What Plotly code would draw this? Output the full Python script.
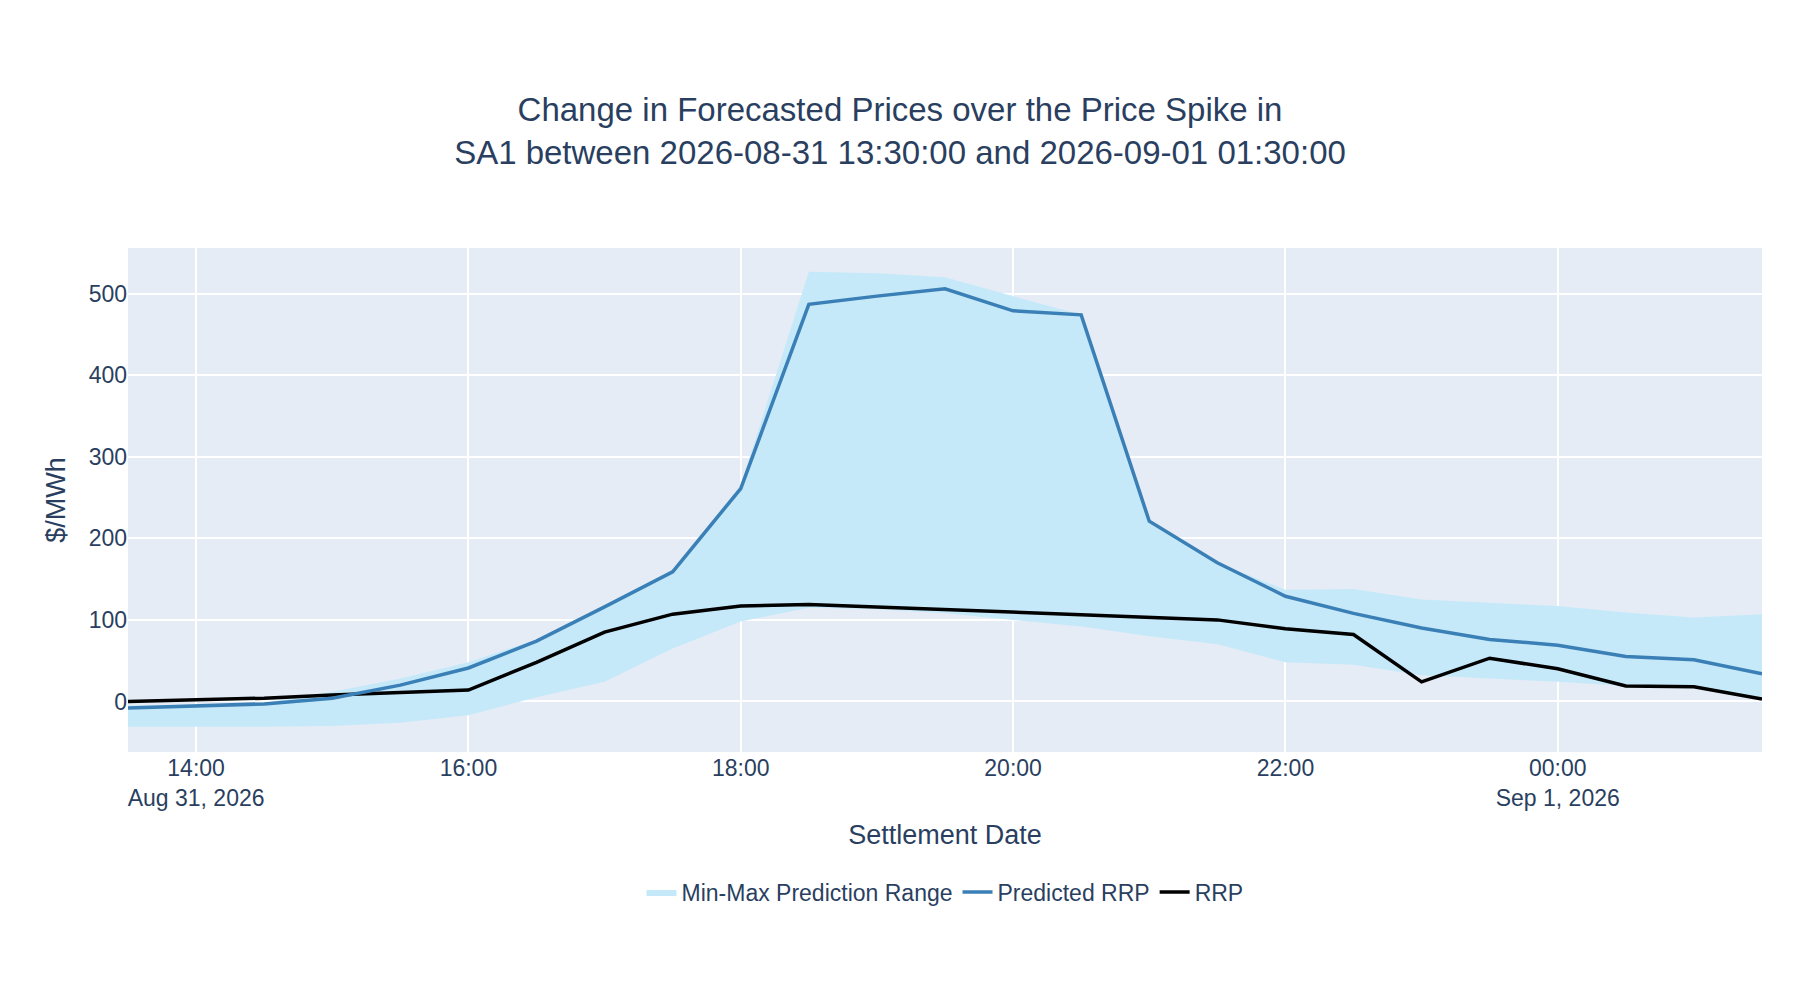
import pandas as pd
import plotly.graph_objects as go

times = pd.date_range("2026-08-31 13:30", "2026-09-01 01:30", freq="30min")

rrp = [0, 2, 4, 8, 11, 14, 48, 85, 107, 117, 119, 116, 113, 110, 107, 104, 100,
       89, 82, 24, 53, 40, 19, 18, 3]
predicted = [-8, -6, -3, 4, 20, 41, 74, 116, 159, 261, 487, 497, 506, 479, 474,
             221, 170, 129, 108, 90, 76, 69, 55, 51, 34]
range_max = [-5, -4, -2, 12, 28, 48, 76, 118, 162, 265, 527, 525, 520, 497, 474,
             221, 170, 137, 138, 125, 121, 117, 109, 103, 107]
range_min = [-31, -31, -31, -30, -26, -17, 5, 24, 65, 98, 115, 113, 108, 100, 92,
             80, 70, 48, 45, 32, 28, 24, 19, 18, 3]

fig = go.Figure()
fig.add_trace(go.Scatter(x=times, y=range_max, mode="lines", line=dict(width=0),
                         showlegend=False, hoverinfo="skip"))
fig.add_trace(go.Scatter(x=times, y=range_min, mode="lines", line=dict(width=0),
                         fill="tonexty", fillcolor="#c6e9f9", legendrank=3,
                         name="Min-Max Prediction Range"))
fig.add_trace(go.Scatter(x=times, y=rrp, mode="lines", name="RRP", legendrank=1,
                         line=dict(color="black", width=3.5)))
fig.add_trace(go.Scatter(x=times, y=predicted, mode="lines", name="Predicted RRP",
                         legendrank=2, line=dict(color="#3a7fb6", width=3.5)))

fig.update_layout(
    title=dict(text="Change in Forecasted Prices over the Price Spike in<br>"
                    "SA1 between 2026-08-31 13:30:00 and 2026-09-01 01:30:00",
               x=0.5, y=0.885, font=dict(size=33)),
    font=dict(family="Liberation Sans, Arial", size=23),
    xaxis=dict(title=dict(text="Settlement Date", font=dict(size=27)),
               range=[times[0], times[-1]], gridwidth=2),
    yaxis=dict(title=dict(text="$/MWh", font=dict(size=27)), range=[-62, 556],
               gridwidth=2),
    legend=dict(orientation="h", x=0.5, xanchor="center", y=-0.235, yanchor="top",
                font=dict(size=23)),
    margin=dict(t=240, b=240, l=120, r=30),
)
fig.write_html("out.html")
